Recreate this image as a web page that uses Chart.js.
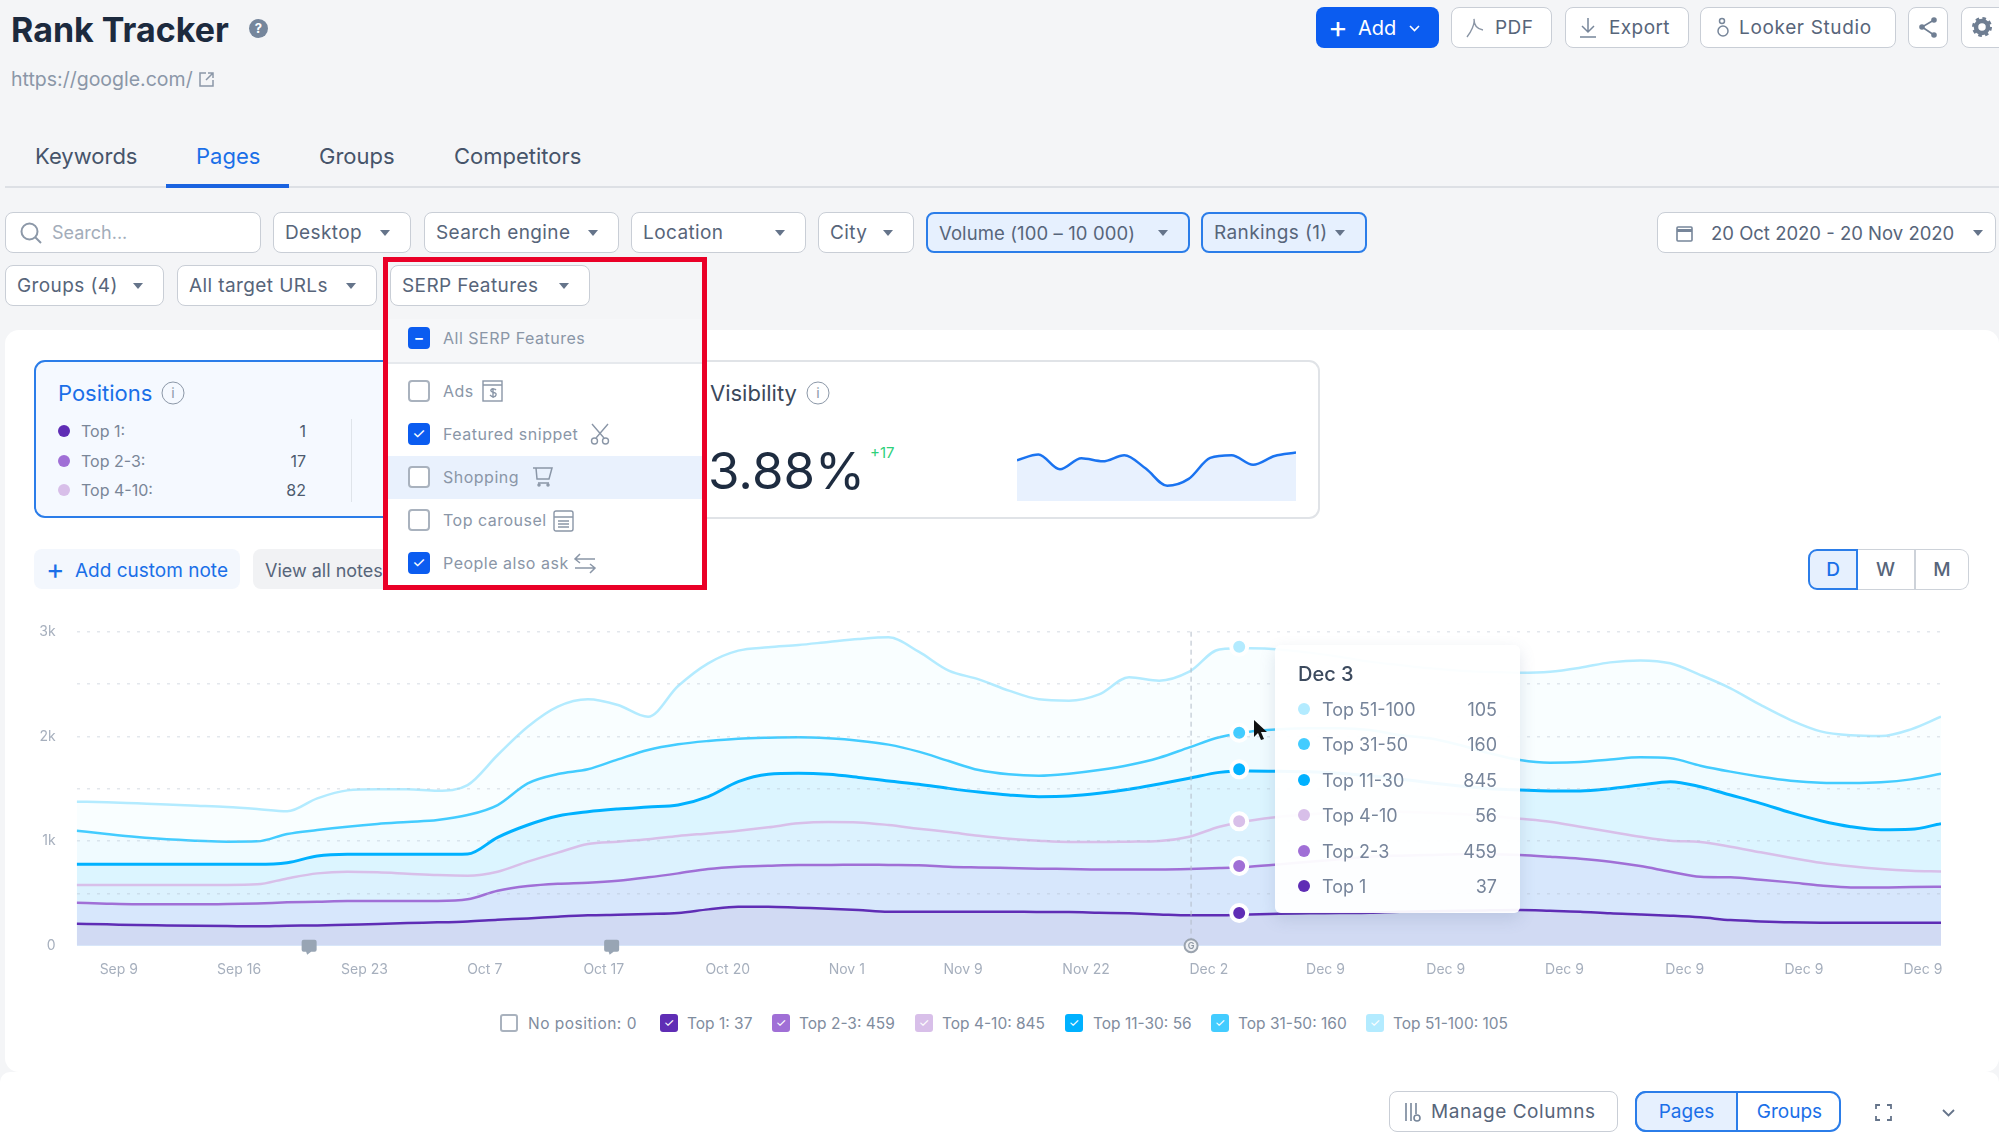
<!DOCTYPE html>
<html>
<head>
<meta charset="utf-8">
<title>Rank Tracker</title>
<script src="https://cdn.jsdelivr.net/npm/chart.js@4"></script>
<style>
html, body { margin: 0; padding: 0; }
body { width: 1999px; height: 1145px; background: #f4f5f7; overflow: hidden; position: relative; font-family: Inter, "Open Sans", sans-serif; color: #4d5b6e; }
.a { position: absolute; white-space: nowrap; }
.t { position: absolute; white-space: nowrap; transform: translateY(-50%); }
.b { position: absolute; box-sizing: border-box; height: 41px; background: #fff; border: 1.5px solid #c9ced6; border-radius: 8px; font-size: 19px; letter-spacing: .4px; color: #57657a; display: flex; align-items: center; justify-content: space-between; padding: 0 20px 0 11px; white-space: nowrap; }
.b.on { background: #e6f0fe; border: 2px solid #2b7de9; }
.caret { width: 0; height: 0; border-left: 5px solid transparent; border-right: 5px solid transparent; border-top: 6px solid #65748a; flex: none; }
.tab { position: absolute; top: 156px; transform: translateY(-50%); font-size: 22px; color: #46546a; }
.cb { position: absolute; left: 408px; width: 22px; height: 22px; box-sizing: border-box; border: 2px solid #a9b2be; border-radius: 4px; background: #fff; }
.cb.on { background: #0b5cf0; border-color: #0b5cf0; color: #fff; font-size: 15px; line-height: 18px; text-align: center; }
.dd { position: absolute; left: 443px; font-size: 16px; letter-spacing: .5px; color: #8a96a7; transform: translateY(-50%); white-space: nowrap; }
.pos { position: absolute; font-size: 16px; color: #7a8698; transform: translateY(-50%); }
.dot { position: absolute; border-radius: 50%; width: 12px; height: 12px; transform: translate(-50%, -50%); }
.info { position: absolute; box-sizing: border-box; width: 23px; height: 23px; border: 1.5px solid #8c98a8; border-radius: 50%; font-size: 14px; line-height: 20px; text-align: center; color: #8c98a8; transform: translate(-50%, -50%); }
.lb { position: absolute; top: 1014px; width: 18px; height: 18px; box-sizing: border-box; border-radius: 3px; color: #fff; font-size: 12px; line-height: 18px; text-align: center; }
.lt { position: absolute; top: 1023px; transform: translateY(-50%); font-size: 15.5px; color: #7f8c9e; white-space: nowrap; }
.tl { position: absolute; left: 1322px; transform: translateY(-50%); font-size: 18px; color: #76849a; }
.tv { position: absolute; right: 502px; transform: translateY(-50%); font-size: 18px; color: #76849a; }
svg { position: absolute; overflow: visible; }
</style>
</head>
<body>

<!-- header -->
<div class="t" style="left:11px;top:29px;font-size:34px;font-weight:700;color:#1c2a3e">Rank Tracker</div>
<div class="a" style="left:249px;top:19px;width:19px;height:19px;border-radius:50%;background:#75869c;color:#fff;font-size:13px;font-weight:700;line-height:19px;text-align:center">?</div>
<div class="t" style="left:11px;top:79px;font-size:19.5px;color:#8b97a8">https://google.com/</div>
<svg style="left:199px;top:72px" width="15" height="15" fill="none" stroke="#8b97a8" stroke-width="1.5"><path d="M7 1H1v13h13V8M9 1h5v5M14 1L7 8"/></svg>

<div class="a" style="left:1316px;top:7px;width:123px;height:41px;background:#0b5cf0;border-radius:8px"></div>
<div class="t" style="left:1328px;top:27px;font-size:30px;color:#fff">+</div>
<div class="t" style="left:1358px;top:28px;font-size:20px;color:#fff">Add</div>
<svg style="left:1409px;top:25px" width="11" height="7" fill="none" stroke="#fff" stroke-width="1.6"><path d="M1 1l4.5 4.5L10 1"/></svg>

<div class="b" style="left:1451px;top:7px;width:101px;padding-left:43px">PDF</div>
<svg style="left:1466px;top:18px" width="19" height="20" fill="none" stroke="#8a95a5" stroke-width="1.4"><path d="M1 19C5 14 9 6 8 1c0 6 3 10 9 11"/></svg>
<div class="b" style="left:1565px;top:7px;width:124px;padding-left:43px">Export</div>
<svg style="left:1579px;top:17px" width="18" height="21" fill="none" stroke="#77869a" stroke-width="1.5"><path d="M9 1v14M3 9l6 6 6-6M1 20h16"/></svg>
<div class="b" style="left:1700px;top:7px;width:196px;padding-left:38px;letter-spacing:.65px">Looker Studio</div>
<svg style="left:1716px;top:17px" width="14" height="21" fill="none" stroke="#77869a" stroke-width="1.5"><circle cx="7" cy="14" r="5"/><circle cx="6" cy="4" r="2.5"/></svg>
<div class="b" style="left:1908px;top:7px;width:40px"></div>
<svg style="left:1919px;top:17px" width="18" height="21" fill="#6f7e92" stroke="#6f7e92" stroke-width="1.6"><path d="M15 3L3 10l12 8" fill="none"/><circle cx="15" cy="3" r="2"/><circle cx="3" cy="10" r="2"/><circle cx="15" cy="18" r="2"/></svg>
<div class="b" style="left:1961px;top:7px;width:46px"></div>
<svg style="left:1972px;top:17px" width="20" height="20" fill="none" stroke="#6f7e92"><circle cx="10" cy="10" r="6" stroke-width="4.5"/><circle cx="10" cy="10" r="8.5" stroke-width="3" stroke-dasharray="3.5 3.2"/></svg>

<!-- tabs -->
<div class="tab" style="left:35px">Keywords</div>
<div class="tab" style="left:196px;color:#1a6fe8">Pages</div>
<div class="tab" style="left:319px">Groups</div>
<div class="tab" style="left:454px">Competitors</div>
<div class="a" style="left:5px;top:186px;width:1994px;height:2px;background:#dde0e5"></div>
<div class="a" style="left:166px;top:184px;width:123px;height:4px;background:#1a63e0"></div>

<!-- filters -->
<div class="b" style="left:5px;top:212px;width:256px;padding-left:46px;color:#a3adba;font-size:18px;letter-spacing:0">Search...</div>
<svg style="left:20px;top:222px" width="23" height="23" fill="none" stroke="#8c98a8" stroke-width="2"><circle cx="9.5" cy="9.5" r="8"/><path d="M15 15l6 6"/></svg>
<div class="b" style="left:273px;top:212px;width:138px">Desktop<i class="caret"></i></div>
<div class="b" style="left:424px;top:212px;width:195px">Search engine<i class="caret"></i></div>
<div class="b" style="left:631px;top:212px;width:175px">Location<i class="caret"></i></div>
<div class="b" style="left:818px;top:212px;width:96px">City<i class="caret"></i></div>
<div class="b on" style="left:926px;top:212px;width:264px;font-size:18.5px;letter-spacing:.1px">Volume (100 – 10 000)<i class="caret"></i></div>
<div class="b on" style="left:1201px;top:212px;width:166px">Rankings (1)<i class="caret"></i></div>
<div class="b" style="left:1657px;top:212px;width:339px;padding-left:53px;padding-right:12px;font-size:18.5px;letter-spacing:0">20 Oct 2020 - 20 Nov 2020<i class="caret"></i></div>
<svg style="left:1676px;top:224px" width="17" height="18" fill="none" stroke="#77869a" stroke-width="1.6"><rect x="1" y="3" width="15" height="14" rx="1"/><path d="M1 6.5h15" stroke-width="3"/></svg>
<div class="b" style="left:5px;top:265px;width:159px">Groups (4)<i class="caret"></i></div>
<div class="b" style="left:177px;top:265px;width:200px">All target URLs<i class="caret"></i></div>

<!-- main card -->
<div class="a" style="left:5px;top:330px;width:1994px;height:742px;background:#fff;border-radius:14px"></div>
<div class="a" style="left:0;top:1072px;width:1999px;height:73px;background:#fff;border-radius:10px 10px 0 0"></div>

<!-- positions card -->
<div class="a" style="left:34px;top:360px;width:420px;height:158px;box-sizing:border-box;background:#f5f9ff;border:2px solid #2b7de9;border-radius:11px"></div>
<div class="t" style="left:58px;top:393px;font-size:22px;color:#1a6fe8">Positions</div>
<div class="info" style="left:173px;top:393px">i</div>
<div class="dot" style="left:64px;top:431px;background:#5f2db5"></div>
<div class="dot" style="left:64px;top:461px;background:#a06fd6"></div>
<div class="dot" style="left:64px;top:490px;background:#d8bfe9"></div>
<div class="pos" style="left:81px;top:431px">Top 1:</div>
<div class="pos" style="left:81px;top:461px">Top 2-3:</div>
<div class="pos" style="left:81px;top:490px">Top 4-10:</div>
<div class="pos" style="right:1693px;top:431px;color:#4d5b6e">1</div>
<div class="pos" style="right:1693px;top:461px;color:#4d5b6e">17</div>
<div class="pos" style="right:1693px;top:490px;color:#4d5b6e">82</div>
<div class="a" style="left:351px;top:419px;width:1px;height:83px;background:#dfe4ea"></div>

<!-- visibility card -->
<div class="a" style="left:640px;top:360px;width:680px;height:159px;box-sizing:border-box;background:#fff;border:2px solid #e0e3e7;border-radius:11px"></div>
<div class="t" style="left:710px;top:393px;font-size:22px;color:#3b495c">Visibility</div>
<div class="info" style="left:818px;top:393px">i</div>
<div class="t" style="left:708px;top:470px;font-size:51px;color:#1e2c40">3.88%</div>
<div class="t" style="left:870px;top:452px;font-size:15px;color:#2fd07a">+17</div>
<canvas id="spark" class="a" style="left:1017px;top:440px" width="279" height="61"></canvas>

<!-- note buttons -->
<div class="a" style="left:34px;top:549px;width:206px;height:40px;background:#f3f7fd;border-radius:8px"></div>
<div class="t" style="left:46px;top:569px;font-size:28px;color:#1a6fe8">+</div>
<div class="t" style="left:75px;top:570px;font-size:19px;color:#1a6fe8">Add custom note</div>
<div class="a" style="left:253px;top:549px;width:140px;height:40px;background:#f1f2f4;border-radius:8px"></div>
<div class="t" style="left:265px;top:570px;font-size:18px;color:#57657a">View all notes</div>

<!-- period switch -->
<div class="a" style="left:1857px;top:549px;width:112px;height:41px;box-sizing:border-box;background:#fff;border:1.5px solid #cdd2d9;border-left:0;border-radius:0 9px 9px 0"></div>
<div class="a" style="left:1914px;top:549px;width:1.5px;height:41px;background:#cdd2d9"></div>
<div class="a" style="left:1808px;top:549px;width:50px;height:41px;box-sizing:border-box;background:#e6f0fe;border:2px solid #2b7de9;border-radius:9px 0 0 9px;font-size:19px;font-weight:500;color:#1a6fe8;line-height:37px;text-align:center">D</div>
<div class="a" style="left:1857px;top:549px;width:57px;font-size:19px;font-weight:500;color:#57657a;line-height:41px;text-align:center">W</div>
<div class="a" style="left:1915px;top:549px;width:54px;font-size:19px;font-weight:500;color:#57657a;line-height:41px;text-align:center">M</div>

<!-- main chart -->
<canvas id="ranks" class="a" style="left:0;top:600px" width="1999" height="400"></canvas>

<!-- hover tooltip -->
<div class="a" style="left:1275px;top:645px;width:245px;height:268px;background:rgba(255,255,255,.95);border-radius:6px;box-shadow:0 6px 16px rgba(90,110,150,.18)"></div>
<div class="t" style="left:1298px;top:674px;font-size:20px;font-weight:500;color:#3c4a5e">Dec 3</div>
<div class="dot" style="left:1304px;top:709px;background:#b3ebff"></div>
<div class="dot" style="left:1304px;top:744px;background:#43ccff"></div>
<div class="dot" style="left:1304px;top:780px;background:#00b1ff"></div>
<div class="dot" style="left:1304px;top:815px;background:#d8bfe9"></div>
<div class="dot" style="left:1304px;top:851px;background:#a06fd6"></div>
<div class="dot" style="left:1304px;top:886px;background:#5f2db5"></div>
<div class="tl" style="top:709px">Top 51-100</div><div class="tv" style="top:709px">105</div>
<div class="tl" style="top:744px">Top 31-50</div><div class="tv" style="top:744px">160</div>
<div class="tl" style="top:780px">Top 11-30</div><div class="tv" style="top:780px">845</div>
<div class="tl" style="top:815px">Top 4-10</div><div class="tv" style="top:815px">56</div>
<div class="tl" style="top:851px">Top 2-3</div><div class="tv" style="top:851px">459</div>
<div class="tl" style="top:886px">Top 1</div><div class="tv" style="top:886px">37</div>
<svg style="left:1254px;top:720px" width="14" height="22"><path d="M0 0v17l4-4 3 7 3-1-3-7h6z" fill="#111"/></svg>

<!-- legend -->
<div class="lb" style="left:500px;border:2px solid #a9b2be;background:#fff"></div><div class="lt" style="left:528px;letter-spacing:.5px">No position: 0</div>
<div class="lb" style="left:660px;background:#5f2db5">✓</div><div class="lt" style="left:687px">Top 1: 37</div>
<div class="lb" style="left:772px;background:#a06fd6">✓</div><div class="lt" style="left:799px">Top 2-3: 459</div>
<div class="lb" style="left:915px;background:#d8bfe9">✓</div><div class="lt" style="left:942px">Top 4-10: 845</div>
<div class="lb" style="left:1065px;background:#00b1ff">✓</div><div class="lt" style="left:1093px">Top 11-30: 56</div>
<div class="lb" style="left:1211px;background:#43ccff">✓</div><div class="lt" style="left:1238px">Top 31-50: 160</div>
<div class="lb" style="left:1366px;background:#b3ebff">✓</div><div class="lt" style="left:1393px">Top 51-100: 105</div>

<!-- bottom bar -->
<div class="b" style="left:1389px;top:1091px;width:229px;padding-left:41px;letter-spacing:.55px">Manage Columns</div>
<svg style="left:1404px;top:1102px" width="18" height="20" fill="none" stroke="#77869a" stroke-width="1.6"><path d="M2 1v18M7 1v18M12 1v11"/><circle cx="13" cy="16" r="3"/></svg>
<div class="a" style="left:1635px;top:1091px;width:206px;height:41px;box-sizing:border-box;background:#fff;border:2px solid #2b7de9;border-radius:11px"></div>
<div class="a" style="left:1635px;top:1091px;width:103px;height:41px;box-sizing:border-box;background:#e6f0fe;border:2px solid #2b7de9;border-radius:11px 0 0 11px;font-size:19px;color:#1a6fe8;line-height:37px;text-align:center">Pages</div>
<div class="a" style="left:1738px;top:1091px;width:103px;font-size:19px;color:#1a6fe8;line-height:41px;text-align:center">Groups</div>
<svg style="left:1875px;top:1104px" width="17" height="17" fill="none" stroke="#65748a" stroke-width="1.8"><path d="M1 5V1h4M12 1h4v4M16 12v4h-4M5 16H1v-4"/></svg>
<svg style="left:1942px;top:1109px" width="13" height="8" fill="none" stroke="#65748a" stroke-width="1.8"><path d="M1 1l5.5 5.5L12 1"/></svg>

<!-- serp features dropdown -->
<div class="a" style="left:388px;top:319px;width:314px;height:266px;background:#fff;z-index:4"></div>
<div class="a" style="left:388px;top:319px;width:314px;height:43px;background:#f6f7f9;border-bottom:2px solid #e6e9ed;z-index:4"></div>
<div class="a" style="left:388px;top:456px;width:314px;height:43px;background:#e9f1fd;z-index:4"></div>
<div style="position:absolute;left:0;top:0;z-index:5">
  <div class="b" style="left:390px;top:265px;width:200px">SERP Features<i class="caret"></i></div>
  <div class="cb on" style="top:327px;font-weight:700">–</div><div class="dd" style="top:338px">All SERP Features</div>
  <div class="cb" style="top:380px"></div><div class="dd" style="top:391px">Ads</div>
  <svg style="left:482px;top:380px" width="22" height="22" fill="none" stroke="#8a96a7" stroke-width="1.4"><rect x="1" y="1" width="19" height="20"/><path d="M1 5h19M11 8v10M14 10c-2-2-6-1-5 1s6 1 5 4-4 2-6 0"/></svg>
  <div class="cb on" style="top:423px">✓</div><div class="dd" style="top:434px">Featured snippet</div>
  <svg style="left:590px;top:423px" width="20" height="22" fill="none" stroke="#8a96a7" stroke-width="1.4"><path d="M2 1l12 14M18 1L6 15"/><circle cx="4.5" cy="18" r="3"/><circle cx="15.5" cy="18" r="3"/></svg>
  <div class="cb" style="top:466px"></div><div class="dd" style="top:477px">Shopping</div>
  <svg style="left:532px;top:467px" width="21" height="20" fill="none" stroke="#8a96a7" stroke-width="1.5"><path d="M1 1h19l-3 11H5L4 1M6 16h11"/><circle cx="7" cy="18" r="1"/><circle cx="16" cy="18" r="1"/></svg>
  <div class="cb" style="top:509px"></div><div class="dd" style="top:520px">Top carousel</div>
  <svg style="left:553px;top:510px" width="21" height="21" fill="none" stroke="#8a96a7" stroke-width="1.4"><rect x="1" y="1" width="19" height="20" rx="2"/><path d="M1 7h19M5 11h11M5 14h11M5 17h11"/></svg>
  <div class="cb on" style="top:552px">✓</div><div class="dd" style="top:563px">People also ask</div>
  <svg style="left:574px;top:553px" width="22" height="21" fill="none" stroke="#8a96a7" stroke-width="1.5"><path d="M21 6H2M6 1L1 6l5 4M1 15h19M16 11l5 4-5 5"/></svg>
</div>
<div class="a" style="left:383px;top:257px;width:324px;height:333px;box-sizing:border-box;border:5px solid #ea0027;z-index:6"></div>

<script>
// y axis and x axis labels
const yTicks = [0, 1000, 2000, 3000];
const tickLabels = ['Sep 9', 'Sep 16', 'Sep 23', 'Oct 7', 'Oct 17', 'Oct 20', 'Nov 1', 'Nov 9', 'Nov 22', 'Dec 2', 'Dec 9', 'Dec 9', 'Dec 9', 'Dec 9', 'Dec 9', 'Dec 9'];
const tickSamples = [1.4, 5.4, 9.57, 13.57, 17.53, 21.65, 25.61, 29.48, 33.57, 37.65, 41.53, 45.53, 49.48, 53.48, 57.44, 61.4];

// one value per sample
const top1 = [210, 204, 197, 194, 191, 188, 185, 191, 194, 201, 207, 217, 223, 232, 248, 261, 277, 290, 296, 303, 312, 347, 373, 373, 363, 354, 341, 325, 325, 325, 325, 325, 322, 322, 315, 309, 299, 290, 290, 299, 306, 309, 312, 315, 325, 328, 334, 338, 341, 334, 325, 309, 299, 287, 271, 245, 232, 223, 220, 220, 220, 220, 220];
const top2to3 = [411, 401, 395, 395, 395, 398, 404, 414, 420, 427, 427, 427, 427, 443, 525, 570, 592, 602, 621, 653, 691, 733, 755, 764, 771, 771, 774, 771, 768, 755, 748, 742, 736, 733, 729, 729, 729, 733, 742, 755, 777, 803, 825, 850, 860, 866, 873, 873, 866, 850, 831, 803, 761, 707, 659, 653, 631, 605, 576, 557, 557, 561, 564];
const top4to10 = [580, 580, 580, 580, 580, 580, 586, 643, 691, 707, 701, 688, 675, 669, 707, 803, 889, 971, 994, 1016, 1048, 1073, 1099, 1131, 1169, 1182, 1178, 1153, 1118, 1086, 1051, 1022, 1003, 991, 991, 994, 1000, 1041, 1137, 1194, 1233, 1255, 1274, 1284, 1280, 1271, 1258, 1239, 1213, 1185, 1137, 1089, 1041, 1003, 991, 946, 892, 841, 793, 758, 733, 717, 710];
const top11to30 = [777, 777, 777, 777, 777, 777, 777, 793, 857, 873, 873, 873, 873, 876, 1035, 1153, 1239, 1280, 1306, 1325, 1344, 1424, 1567, 1637, 1647, 1637, 1608, 1573, 1542, 1503, 1468, 1440, 1424, 1430, 1456, 1494, 1545, 1599, 1656, 1669, 1666, 1663, 1647, 1624, 1593, 1557, 1526, 1500, 1487, 1478, 1478, 1500, 1535, 1567, 1519, 1440, 1360, 1271, 1194, 1137, 1108, 1112, 1166];
const top31to50 = [1099, 1067, 1038, 1016, 1003, 994, 997, 1067, 1105, 1137, 1163, 1182, 1201, 1248, 1344, 1551, 1640, 1685, 1780, 1870, 1924, 1956, 1978, 1987, 1991, 1981, 1959, 1921, 1854, 1764, 1678, 1637, 1624, 1643, 1678, 1726, 1796, 1895, 1991, 2045, 2067, 2077, 2077, 2061, 2013, 1981, 1917, 1838, 1774, 1749, 1755, 1780, 1800, 1790, 1720, 1663, 1615, 1577, 1557, 1554, 1561, 1589, 1643];
const top51to100 = [1376, 1370, 1360, 1350, 1338, 1325, 1306, 1284, 1408, 1484, 1494, 1494, 1481, 1535, 1822, 2092, 2284, 2354, 2300, 2188, 2481, 2698, 2819, 2851, 2873, 2902, 2930, 2946, 2809, 2628, 2545, 2437, 2354, 2341, 2401, 2564, 2532, 2618, 2831, 2841, 2831, 2800, 2761, 2714, 2682, 2650, 2628, 2615, 2608, 2618, 2656, 2707, 2726, 2698, 2586, 2459, 2300, 2156, 2048, 2010, 2003, 2067, 2188];

// the hovered day (Dec 3) and the note markers on the axis
const hoverSample = 38.66;
const hoverValues = [312, 761, 1188, 1685, 2035, 2857];
const hoverColors = ['#5f2db5', '#a06fd6', '#d8bfe9', '#00b1ff', '#43ccff', '#b3ebff'];
const noteSamples = [7.73, 17.79];
const crosshairSample = 37.06;

const visibilitySpark = [107, 122, 83, 112, 104, 120, 85, 40, 58, 113, 120, 95, 118, 127];

function series(values, line, width, area) {
    return {
        data: values.map((v, i) => ({ x: i, y: v })),
        borderColor: line,
        borderWidth: width,
        backgroundColor: area,
        fill: 'origin',
        pointRadius: 0,
        cubicInterpolationMode: 'monotone'
    };
}

// crosshair, comment pins and the G marker
const markersPlugin = {
    id: 'markers',
    afterDatasetsDraw(chart) {
        const { ctx, scales: { x, y } } = chart;
        const base = y.getPixelForValue(0);
        const cx = x.getPixelForValue(crosshairSample);
        ctx.save();
        ctx.strokeStyle = '#b4bcc8';
        ctx.lineWidth = 1;
        ctx.setLineDash([5, 4]);
        ctx.beginPath();
        ctx.moveTo(cx, y.getPixelForValue(3000));
        ctx.lineTo(cx, base);
        ctx.stroke();
        ctx.setLineDash([]);

        ctx.fillStyle = '#98a5b4';
        noteSamples.forEach(s => {
            const px = x.getPixelForValue(s);
            ctx.beginPath();
            ctx.roundRect(px - 7.5, base - 6, 15, 12, 2);
            ctx.moveTo(px - 3, base + 6);
            ctx.lineTo(px - 2, base + 9);
            ctx.lineTo(px + 2, base + 6);
            ctx.fill();
        });

        ctx.fillStyle = '#eef0f3';
        ctx.strokeStyle = '#9aa3ae';
        ctx.lineWidth = 2;
        ctx.beginPath();
        ctx.arc(cx, base, 6.5, 0, Math.PI * 2);
        ctx.fill();
        ctx.stroke();
        ctx.fillStyle = '#8d97a3';
        ctx.font = '600 9px Inter';
        ctx.textAlign = 'center';
        ctx.textBaseline = 'middle';
        ctx.fillText('G', cx, base + 0.5);
        ctx.restore();
    }
};

new Chart(document.getElementById('ranks').getContext('2d'), {
    type: 'line',
    data: {
        datasets: [
            {
                data: hoverValues.map(v => ({ x: hoverSample, y: v })),
                showLine: false,
                fill: false,
                clip: false,
                pointRadius: 8,
                pointBorderWidth: 4,
                pointBorderColor: '#fff',
                pointBackgroundColor: hoverColors
            },
            series(top1, '#5f2db5', 2.5, '#d1daf3'),
            series(top2to3, '#a06fd6', 2.5, '#d7e7fc'),
            series(top4to10, '#d8bfe9', 2.5, '#dcf2fe'),
            series(top11to30, '#00b1ff', 3, '#dcf5ff'),
            series(top31to50, '#43ccff', 2.5, '#f0fbff'),
            series(top51to100, '#b3ebff', 2.5, '#f9feff')
        ]
    },
    plugins: [markersPlugin],
    options: {
        responsive: false,
        animation: false,
        events: [],
        layout: { padding: { top: 31.7, right: 58, left: 0, bottom: 0 } },
        plugins: { legend: { display: false }, tooltip: { enabled: false } },
        scales: {
            x: {
                type: 'linear',
                min: 0,
                max: 62,
                afterBuildTicks: axis => { axis.ticks = tickSamples.map(value => ({ value })); },
                afterFit: axis => { axis.height = 54.3; },
                grid: { display: false },
                border: { display: false },
                ticks: {
                    autoSkip: false,
                    maxRotation: 0,
                    padding: 8,
                    color: '#a6afbd',
                    font: { family: 'Inter', size: 14 },
                    callback: (value, index) => tickLabels[index]
                }
            },
            y: {
                min: 0,
                max: 3000,
                afterFit: axis => { axis.width = 76.7; },
                border: { display: false, dash: [3, 7] },
                grid: {
                    z: 1,
                    drawTicks: false,
                    color: ctx => ctx.tick.value === 0 ? 'transparent' : 'rgba(175,185,200,.35)',
                    lineWidth: 1.5
                },
                ticks: {
                    stepSize: 500,
                    padding: 21,
                    color: '#a6afbd',
                    font: { family: 'Inter', size: 14 },
                    callback: value => yTicks.includes(value) ? (value === 0 ? '0' : value / 1000 + 'k') : ''
                }
            }
        }
    }
});

new Chart(document.getElementById('spark').getContext('2d'), {
    type: 'line',
    data: {
        labels: visibilitySpark.map((v, i) => i),
        datasets: [{
            data: visibilitySpark,
            borderColor: '#1a73f0',
            borderWidth: 2.5,
            backgroundColor: '#e8f1fe',
            fill: 'origin',
            pointRadius: 0,
            cubicInterpolationMode: 'monotone'
        }]
    },
    options: {
        responsive: false,
        animation: false,
        events: [],
        layout: { padding: 0 },
        plugins: { legend: { display: false }, tooltip: { enabled: false } },
        scales: {
            x: { display: false },
            y: { display: false, min: 0, max: 160 }
        }
    }
});
</script>
</body>
</html>
